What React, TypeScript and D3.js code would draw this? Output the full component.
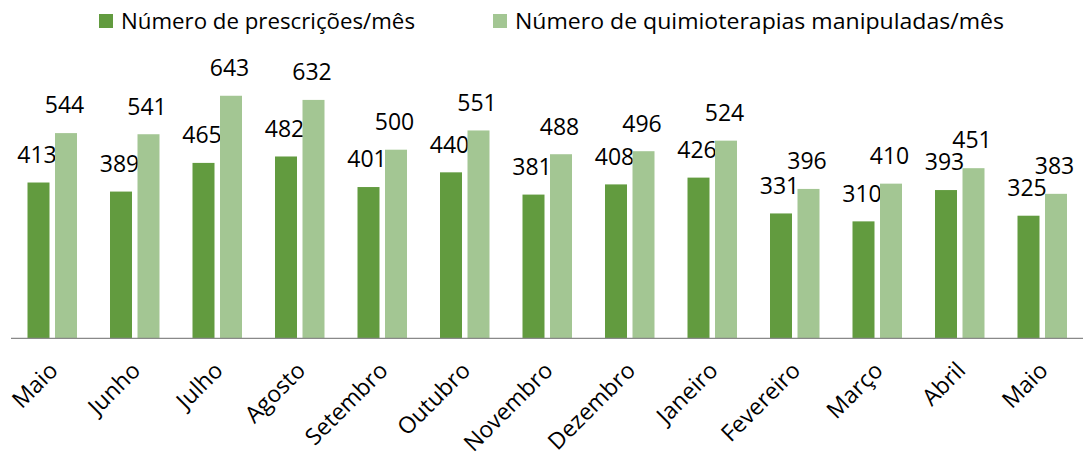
import React from "react";
import * as d3 from "d3";

const categories = ["Maio", "Junho", "Julho", "Agosto", "Setembro", "Outubro", "Novembro", "Dezembro", "Janeiro", "Fevereiro", "Março", "Abril", "Maio"];
const prescricoes = [413, 389, 465, 482, 401, 440, 381, 408, 426, 331, 310, 393, 325];
const quimioterapias = [544, 541, 643, 632, 500, 551, 488, 496, 524, 396, 410, 451, 383];
const seriesNames = ["Número de prescrições/mês", "Número de quimioterapias manipuladas/mês"];
const seriesColors = ["#629B3F", "#A3C693"];
const yDomain = [0, 700];

const W = 1083;
const H = 455;
const FONT = "'Open Sans', 'Noto Sans', sans-serif";

export default function App() {
  const idx = categories.map((_, i) => String(i));
  const x0 = d3.scaleBand<string>().domain(idx).range([11, 1083.5]).padding(0);
  const bw = x0.bandwidth();
  const x1 = d3.scaleBand<string>().domain(["0", "1"]).range([bw * 0.2, bw * 0.8]).paddingInner(0.2);
  const y = d3.scaleLinear().domain(yDomain).range([338.3, 338.3 - 700 * 0.3772]);
  const data = [prescricoes, quimioterapias];

  const legend = [
    { sq: 99, tx: 121, len: 294 },
    { sq: 493, tx: 515, len: 489 },
  ];

  return (
    <svg width={W} height={H} style={{ position: "absolute", left: 0, top: 0, background: "#fff" }} fontFamily={FONT}>
      {legend.map((l, i) => (
        <g key={i}>
          <rect x={l.sq} y={14} width={14} height={14} fill={seriesColors[i]} />
          <text x={l.tx} y={28.5} fontSize={22} fill="#000" textLength={l.len} lengthAdjust="spacingAndGlyphs">
            {seriesNames[i]}
          </text>
        </g>
      ))}
      {idx.map((k, i) => (
        <g key={k} transform={`translate(${x0(k)},0)`}>
          {data.map((s, j) => {
            const bx = x1(String(j))!;
            const v = s[i];
            return (
              <g key={j}>
                <rect x={bx} y={y(v)} width={x1.bandwidth()} height={y(0) - y(v)} fill={seriesColors[j]} />
                <text x={bx + x1.bandwidth() / 2 - 1.5} y={y(v) - 19.7} fontSize={23} textAnchor="middle" fill="#000">
                  {v}
                </text>
              </g>
            );
          })}
        </g>
      ))}
      <line x1={11} x2={1083} y1={338.3} y2={338.3} stroke="#898989" strokeWidth={1.3} />
      {idx.map((k, i) => {
        const cx = x0(k)! + bw / 2 + 7;
        const cy = 372;
        return (
          <text key={k} x={cx} y={cy} fontSize={23} textAnchor="end" fill="#000" transform={`rotate(-45 ${cx} ${cy})`}>
            {categories[i]}
          </text>
        );
      })}
    </svg>
  );
}
